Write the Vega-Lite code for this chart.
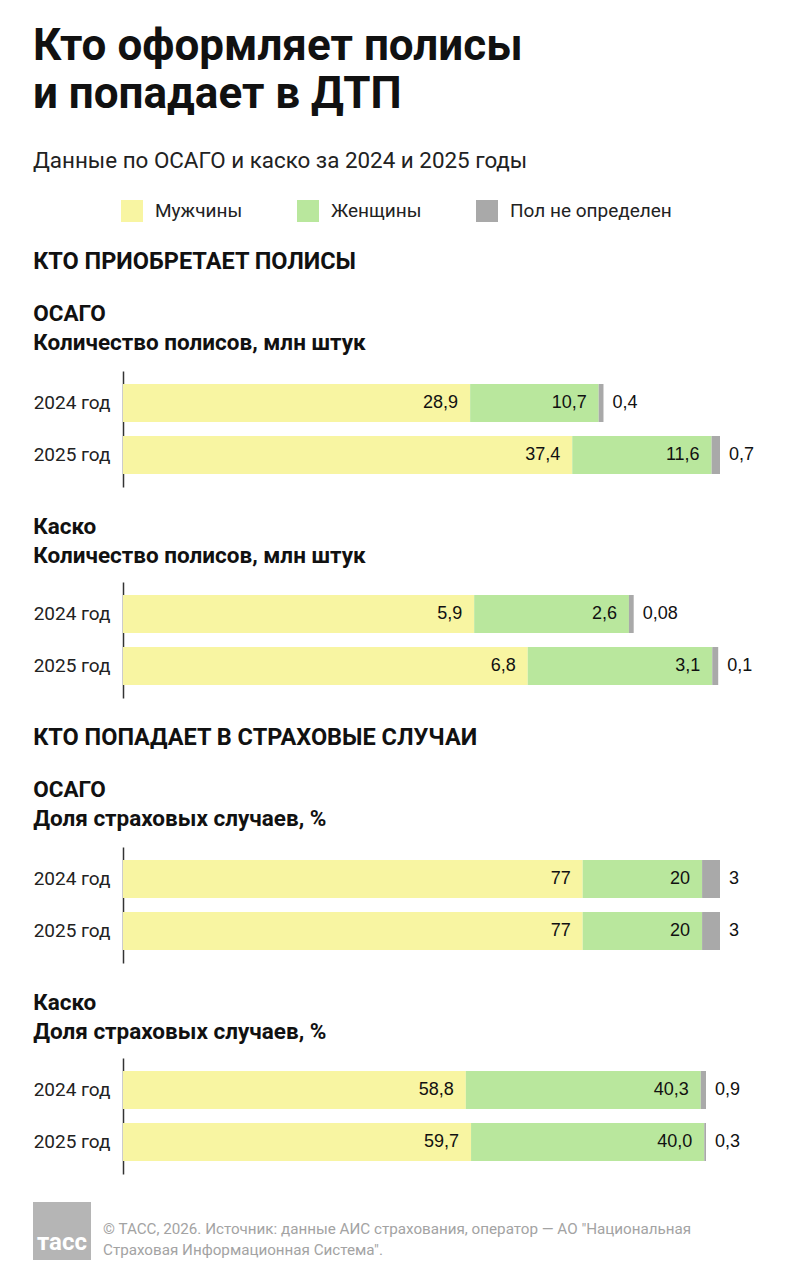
{
  "$schema": "https://vega.github.io/schema/vega-lite/v6.json",
  "background": "white",
  "padding": {"left": 33, "top": 24, "right": 10, "bottom": 10},
  "title": {
    "text": ["Кто оформляет полисы", "и попадает в ДТП"],
    "subtitle": "Данные по ОСАГО и каско за 2024 и 2025 годы",
    "anchor": "start",
    "font": "Roboto",
    "fontSize": 44,
    "fontWeight": "bold",
    "lineHeight": 48,
    "color": "#111111",
    "subtitleFont": "Roboto",
    "subtitleFontSize": 22.4,
    "subtitleFontWeight": "normal",
    "subtitleColor": "#222222",
    "subtitlePadding": 33,
    "offset": 28
  },
  "datasets": {
    "osago_pol": [
      {"year": "2024 год", "cat": "Мужчины", "ord": 1, "v": 28.9, "label": "28,9"},
      {"year": "2024 год", "cat": "Женщины", "ord": 2, "v": 10.7, "label": "10,7"},
      {"year": "2024 год", "cat": "Пол не определен", "ord": 3, "v": 0.4, "label": "0,4"},
      {"year": "2025 год", "cat": "Мужчины", "ord": 1, "v": 37.4, "label": "37,4"},
      {"year": "2025 год", "cat": "Женщины", "ord": 2, "v": 11.6, "label": "11,6"},
      {"year": "2025 год", "cat": "Пол не определен", "ord": 3, "v": 0.7, "label": "0,7"}
    ],
    "kasko_pol": [
      {"year": "2024 год", "cat": "Мужчины", "ord": 1, "v": 5.9, "label": "5,9"},
      {"year": "2024 год", "cat": "Женщины", "ord": 2, "v": 2.6, "label": "2,6"},
      {"year": "2024 год", "cat": "Пол не определен", "ord": 3, "v": 0.08, "label": "0,08"},
      {"year": "2025 год", "cat": "Мужчины", "ord": 1, "v": 6.8, "label": "6,8"},
      {"year": "2025 год", "cat": "Женщины", "ord": 2, "v": 3.1, "label": "3,1"},
      {"year": "2025 год", "cat": "Пол не определен", "ord": 3, "v": 0.1, "label": "0,1"}
    ],
    "osago_pct": [
      {"year": "2024 год", "cat": "Мужчины", "ord": 1, "v": 77, "label": "77"},
      {"year": "2024 год", "cat": "Женщины", "ord": 2, "v": 20, "label": "20"},
      {"year": "2024 год", "cat": "Пол не определен", "ord": 3, "v": 3, "label": "3"},
      {"year": "2025 год", "cat": "Мужчины", "ord": 1, "v": 77, "label": "77"},
      {"year": "2025 год", "cat": "Женщины", "ord": 2, "v": 20, "label": "20"},
      {"year": "2025 год", "cat": "Пол не определен", "ord": 3, "v": 3, "label": "3"}
    ],
    "kasko_pct": [
      {"year": "2024 год", "cat": "Мужчины", "ord": 1, "v": 58.8, "label": "58,8"},
      {"year": "2024 год", "cat": "Женщины", "ord": 2, "v": 40.3, "label": "40,3"},
      {"year": "2024 год", "cat": "Пол не определен", "ord": 3, "v": 0.9, "label": "0,9"},
      {"year": "2025 год", "cat": "Мужчины", "ord": 1, "v": 59.7, "label": "59,7"},
      {"year": "2025 год", "cat": "Женщины", "ord": 2, "v": 40.0, "label": "40,0"},
      {"year": "2025 год", "cat": "Пол не определен", "ord": 3, "v": 0.3, "label": "0,3"}
    ],
    "logo": [{"t": "тасс"}],
    "source": [{"t": "© ТАСС, 2026. Источник: данные АИС страхования, оператор — АО \"Национальная\nСтраховая Информационная Система\"."}]
  },
  "spacing": 28,
  "vconcat": [
    {
      "title": {"text": "КТО ПРИОБРЕТАЕТ ПОЛИСЫ", "subtitle": ["ОСАГО", "Количество полисов, млн штук"]},
      "data": {"name": "osago_pol"},
      "width": 597,
      "height": 116,
      "transform": [{"stack": "v", "groupby": ["year"], "sort": [{"field": "ord"}], "as": ["x0", "x1"]}],
      "encoding": {
        "y": {"field": "year", "type": "nominal", "scale": {"paddingInner": 0.27, "paddingOuter": 0.25}, "axis": {"title": null}}
      },
      "layer": [
        {
          "mark": {"type": "bar"},
          "encoding": {
            "x": {"field": "x0", "type": "quantitative", "scale": {"domain": [0, 49.7], "nice": false}, "axis": null},
            "x2": {"field": "x1"},
            "color": {"field": "cat", "type": "nominal", "scale": {"domain": ["Мужчины", "Женщины", "Пол не определен"], "range": ["#f8f5a2", "#b9e79d", "#a9a9a9"]},
              "legend": {"orient": "none", "legendX": -2, "legendY": -171, "direction": "horizontal", "title": null}}
          }
        },
        {
          "transform": [{"filter": "datum.ord < 3"}],
          "mark": {"type": "text", "align": "right", "dx": -12},
          "encoding": {"x": {"field": "x1", "type": "quantitative"}, "text": {"field": "label"}}
        },
        {
          "transform": [{"filter": "datum.ord == 3"}],
          "mark": {"type": "text", "align": "left", "dx": 9},
          "encoding": {"x": {"field": "x1", "type": "quantitative"}, "text": {"field": "label"}}
        }
      ]
    },
    {
      "title": {"text": ["Каско", "Количество полисов, млн штук"], "fontSize": 22.5, "offset": 15},
      "data": {"name": "kasko_pol"},
      "width": 597,
      "height": 116,
      "transform": [{"stack": "v", "groupby": ["year"], "sort": [{"field": "ord"}], "as": ["x0", "x1"]}],
      "encoding": {
        "y": {"field": "year", "type": "nominal", "scale": {"paddingInner": 0.27, "paddingOuter": 0.25}, "axis": {"title": null}}
      },
      "layer": [
        {
          "mark": {"type": "bar"},
          "encoding": {
            "x": {"field": "x0", "type": "quantitative", "scale": {"domain": [0, 10.03], "nice": false}, "axis": null},
            "x2": {"field": "x1"},
            "color": {"field": "cat", "type": "nominal", "scale": {"domain": ["Мужчины", "Женщины", "Пол не определен"], "range": ["#f8f5a2", "#b9e79d", "#a9a9a9"]},
              "legend": {"orient": "none", "legendX": -2, "legendY": -171, "direction": "horizontal", "title": null}}
          }
        },
        {
          "transform": [{"filter": "datum.ord < 3"}],
          "mark": {"type": "text", "align": "right", "dx": -12},
          "encoding": {"x": {"field": "x1", "type": "quantitative"}, "text": {"field": "label"}}
        },
        {
          "transform": [{"filter": "datum.ord == 3"}],
          "mark": {"type": "text", "align": "left", "dx": 9},
          "encoding": {"x": {"field": "x1", "type": "quantitative"}, "text": {"field": "label"}}
        }
      ]
    },
    {
      "title": {"text": "КТО ПОПАДАЕТ В СТРАХОВЫЕ СЛУЧАИ", "subtitle": ["ОСАГО", "Доля страховых случаев, %"]},
      "data": {"name": "osago_pct"},
      "width": 597,
      "height": 116,
      "transform": [{"stack": "v", "groupby": ["year"], "sort": [{"field": "ord"}], "as": ["x0", "x1"]}],
      "encoding": {
        "y": {"field": "year", "type": "nominal", "scale": {"paddingInner": 0.27, "paddingOuter": 0.25}, "axis": {"title": null}}
      },
      "layer": [
        {
          "mark": {"type": "bar"},
          "encoding": {
            "x": {"field": "x0", "type": "quantitative", "scale": {"domain": [0, 100], "nice": false}, "axis": null},
            "x2": {"field": "x1"},
            "color": {"field": "cat", "type": "nominal", "scale": {"domain": ["Мужчины", "Женщины", "Пол не определен"], "range": ["#f8f5a2", "#b9e79d", "#a9a9a9"]},
              "legend": {"orient": "none", "legendX": -2, "legendY": -171, "direction": "horizontal", "title": null}}
          }
        },
        {
          "transform": [{"filter": "datum.ord < 3"}],
          "mark": {"type": "text", "align": "right", "dx": -12},
          "encoding": {"x": {"field": "x1", "type": "quantitative"}, "text": {"field": "label"}}
        },
        {
          "transform": [{"filter": "datum.ord == 3"}],
          "mark": {"type": "text", "align": "left", "dx": 9},
          "encoding": {"x": {"field": "x1", "type": "quantitative"}, "text": {"field": "label"}}
        }
      ]
    },
    {
      "title": {"text": ["Каско", "Доля страховых случаев, %"], "fontSize": 22.5, "offset": 15},
      "data": {"name": "kasko_pct"},
      "width": 597,
      "height": 116,
      "transform": [{"stack": "v", "groupby": ["year"], "sort": [{"field": "ord"}], "as": ["x0", "x1"]}],
      "encoding": {
        "y": {"field": "year", "type": "nominal", "scale": {"paddingInner": 0.27, "paddingOuter": 0.25}, "axis": {"title": null}}
      },
      "layer": [
        {
          "mark": {"type": "bar"},
          "encoding": {
            "x": {"field": "x0", "type": "quantitative", "scale": {"domain": [0, 102.4], "nice": false}, "axis": null},
            "x2": {"field": "x1"},
            "color": {"field": "cat", "type": "nominal", "scale": {"domain": ["Мужчины", "Женщины", "Пол не определен"], "range": ["#f8f5a2", "#b9e79d", "#a9a9a9"]},
              "legend": {"orient": "none", "legendX": -2, "legendY": -171, "direction": "horizontal", "title": null}}
          }
        },
        {
          "transform": [{"filter": "datum.ord < 3"}],
          "mark": {"type": "text", "align": "right", "dx": -12},
          "encoding": {"x": {"field": "x1", "type": "quantitative"}, "text": {"field": "label"}}
        },
        {
          "transform": [{"filter": "datum.ord == 3"}],
          "mark": {"type": "text", "align": "left", "dx": 9},
          "encoding": {"x": {"field": "x1", "type": "quantitative"}, "text": {"field": "label"}}
        }
      ]
    },
    {
      "width": 58,
      "height": 58,
      "layer": [
        {
          "data": {"name": "logo"},
          "mark": {"type": "point", "shape": "square", "size": 3364, "filled": true, "color": "#b5b5b5", "opacity": 1, "strokeWidth": 0, "xOffset": -90}
        },
        {
          "data": {"name": "logo"},
          "mark": {"type": "text", "font": "Roboto", "fontSize": 24, "fontWeight": "bold", "color": "#ffffff", "dy": 12, "dx": -90},
          "encoding": {"text": {"field": "t"}}
        },
        {
          "data": {"name": "source"},
          "mark": {"type": "text", "align": "left", "font": "Roboto", "fontSize": 15.2, "color": "#a3a3a3", "lineBreak": "\n", "lineHeight": 21, "dy": -2, "dx": -49},
          "encoding": {"text": {"field": "t"}}
        }
      ]
    }
  ],
  "resolve": {"scale": {"x": "independent", "color": "shared"}},
  "config": {
    "view": {"stroke": null},
    "bar": {"cornerRadius": 0},
    "text": {"font": "Liberation Sans", "fontSize": 18, "color": "#111111", "baseline": "middle"},
    "title": {
      "anchor": "start",
      "font": "Roboto",
      "fontSize": 23.5,
      "fontWeight": "bold",
      "color": "#111111",
      "lineHeight": 29,
      "offset": 17,
      "subtitleFont": "Roboto",
      "subtitleFontSize": 22.5,
      "subtitleFontWeight": "bold",
      "subtitleColor": "#111111",
      "subtitleLineHeight": 29,
      "subtitlePadding": 29
    },
    "axis": {
      "domainColor": "#333333",
      "domainWidth": 1.5,
      "ticks": false,
      "grid": false,
      "labelFont": "Roboto",
      "labelFontSize": 19,
      "labelColor": "#222222",
      "labelPadding": 13
    },
    "legend": {
      "symbolType": "square",
      "symbolSize": 484,
      "symbolStrokeWidth": 0,
      "symbolOpacity": 1,
      "labelFont": "Roboto",
      "labelFontSize": 19,
      "labelColor": "#222222",
      "labelOffset": 12,
      "labelLimit": 400,
      "columnPadding": 54
    }
  }
}
